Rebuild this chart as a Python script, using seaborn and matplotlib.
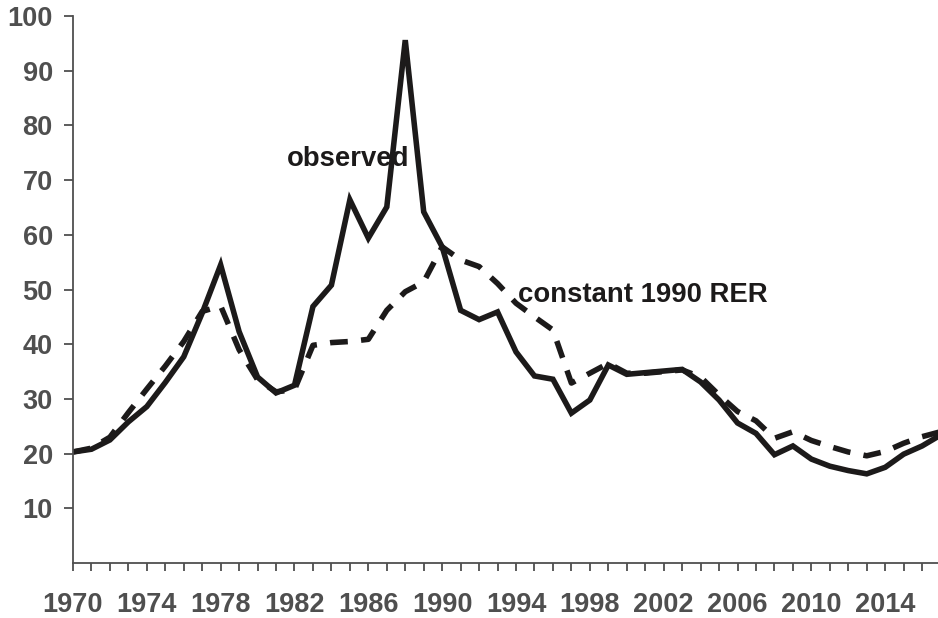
import numpy as np
import pandas as pd
import matplotlib
matplotlib.use("Agg")
import matplotlib.pyplot as plt
import seaborn as sns

years = list(range(1970, 2018))

observed = [20.3, 20.8, 22.5, 25.8, 28.6, 33.0, 37.7, 45.7, 54.5, 42.3,
            34.0, 31.1, 32.5, 46.9, 50.8, 66.4, 59.4, 65.1, 95.6, 64.2,
            57.8, 46.2, 44.5, 45.9, 38.6, 34.2, 33.6, 27.4, 29.8, 36.2,
            34.5, 34.8, 35.1, 35.4, 33.1, 29.8, 25.6, 23.7, 19.8, 21.4,
            19.0, 17.7, 16.9, 16.3, 17.5, 19.9, 21.4, 23.4]

constant_1990 = [20.3, 21.0, 23.0, 27.5, 31.8, 36.0, 40.5, 46.0, 47.0, 39.0,
                 33.5, 31.3, 31.7, 39.8, 40.3, 40.5, 40.9, 46.2, 49.6, 51.4,
                 57.8, 55.4, 54.2, 51.1, 47.5, 45.0, 42.6, 32.9, 34.7, 36.5,
                 34.7, 34.7, 35.0, 35.3, 34.0, 30.7, 27.7, 26.0, 22.8, 24.0,
                 22.4, 21.3, 20.3, 19.6, 20.4, 21.9, 23.1, 24.0]

tick_years = list(range(1970, 2017, 4))
y_ticks = list(range(10, 101, 10))

df = pd.DataFrame({"year": years, "observed": observed, "constant": constant_1990})

sns.set_style("white")
plt.rcParams['font.family'] = ['Liberation Sans', 'DejaVu Sans']

fig = plt.figure(figsize=(9.38, 6.18), dpi=100)
ax = fig.add_axes([0.0778, 0.089, 0.9222, 0.885])

sns.lineplot(data=df, x="year", y="observed", ax=ax, color="#1c1a1a",
             linewidth=4, solid_joinstyle="miter")
sns.lineplot(data=df, x="year", y="constant", ax=ax, color="#1c1a1a",
             linewidth=4, linestyle=(0, (3.2, 2.4)), dash_capstyle="butt")

ax.set_xlim(1970, 2016.86)
ax.set_ylim(0, 100)
ax.set_xticks(tick_years)
ax.set_xticks(years[:47], minor=True)
ax.set_yticks(y_ticks)
ax.set_xlabel("")
ax.set_ylabel("")

gray = "#4f4f4f"
for side in ["top", "right"]:
    ax.spines[side].set_visible(False)
for side in ["left", "bottom"]:
    ax.spines[side].set_color(gray)
    ax.spines[side].set_linewidth(1.3)

ax.tick_params(axis="x", which="both", direction="out", length=6, width=1.3,
               color=gray, bottom=True, pad=15)
ax.tick_params(axis="y", which="major", direction="out", length=6.5, width=1.3,
               color=gray, left=True, pad=8)
ax.tick_params(labelsize=19.5, labelcolor=gray)
for lab in ax.get_xticklabels() + ax.get_yticklabels():
    lab.set_fontweight("bold")

ax.text(1981.6, 72.6, "observed", fontsize=19.8, fontweight="bold",
        color="#1c1a1a", ha="left", va="baseline")
ax.text(1994.1, 47.7, "constant 1990 RER", fontsize=19.8, fontweight="bold",
        color="#1c1a1a", ha="left", va="baseline")

plt.savefig("out.png", dpi=100)
